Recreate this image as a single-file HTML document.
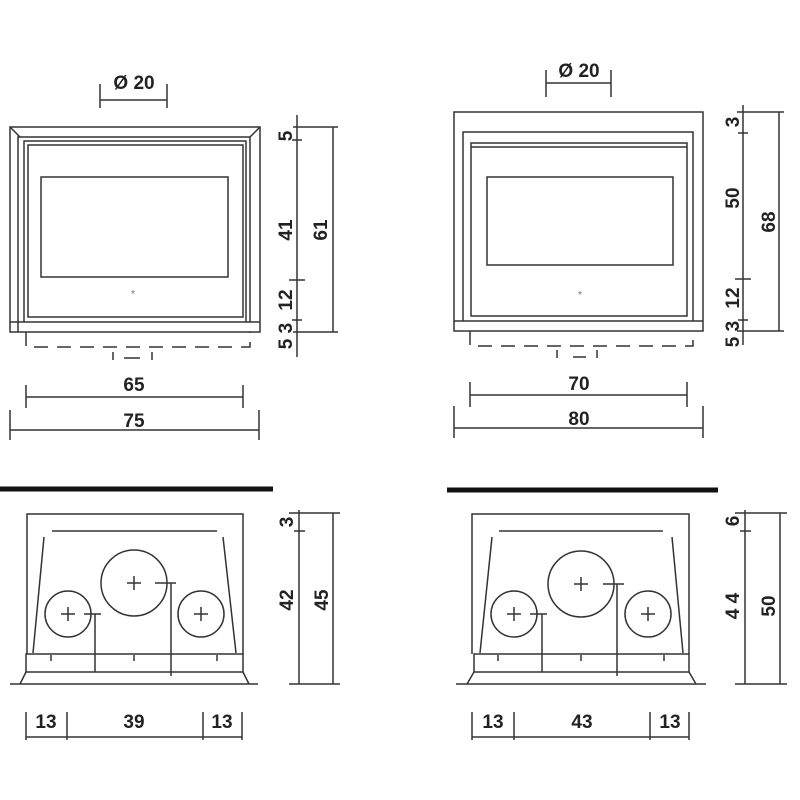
<!DOCTYPE html>
<html><head><style>html,body{margin:0;padding:0;background:#fff}svg{display:block}</style></head><body>
<svg width="800" height="800" viewBox="0 0 800 800" xmlns="http://www.w3.org/2000/svg" font-family="Liberation Sans, sans-serif" font-size="19" font-weight="bold" fill="none" stroke="#333" stroke-width="1.5">
<g fill="#222" stroke="none" text-anchor="middle">
<text x="134" y="89">Ø 20</text>
<text x="134" y="391">65</text>
<text x="134" y="427">75</text>
<text transform="translate(292,136) rotate(-90)">5</text>
<text transform="translate(292,230) rotate(-90)">41</text>
<text transform="translate(327,230) rotate(-90)">61</text>
<text transform="translate(292,300) rotate(-90)">12</text>
<text transform="translate(292,336) rotate(-90)">5 3</text>
<text x="579" y="77">Ø 20</text>
<text x="579" y="390">70</text>
<text x="579" y="425">80</text>
<text transform="translate(739,122) rotate(-90)">3</text>
<text transform="translate(739,198) rotate(-90)">50</text>
<text transform="translate(775,222) rotate(-90)">68</text>
<text transform="translate(739,298) rotate(-90)">12</text>
<text transform="translate(739,334) rotate(-90)">5 3</text>
<text transform="translate(293,522) rotate(-90)">3</text>
<text transform="translate(293,600) rotate(-90)">42</text>
<text transform="translate(328,600) rotate(-90)">45</text>
<text x="46" y="728">13</text><text x="134" y="728">39</text><text x="222" y="728">13</text>
<text transform="translate(739,521) rotate(-90)">6</text>
<text transform="translate(739,606) rotate(-90)">4 4</text>
<text transform="translate(775,606) rotate(-90)">50</text>
<text x="493" y="728">13</text><text x="582" y="728">43</text><text x="670" y="728">13</text>
</g>

<path d="M100,84V108M167,84V108M100,100H167"/>
<rect x="10" y="127" width="250" height="205"/>
<path d="M10,322H260"/>
<path d="M18,332V137H250V322M10,127L20,137M260,127L250,137"/>
<rect x="28" y="145" width="215" height="172"/>
<path d="M24,322V141H246V322"/>
<rect x="41" y="177" width="187" height="100"/>
<text x="133" y="297" font-size="10" fill="#999" stroke="none" text-anchor="middle">*</text>
<path d="M26,332V347H250V332" stroke-dasharray="14,9"/>
<path d="M113,352V360M152,352V360M124,358H140"/>
<path d="M297,115V357M292,140H302M289,280H305M292,320H302M333,127V332M293,127H338M293,332H338"/>
<path d="M26,385V408M243,385V408M26,397H243M10,410V440M259,410V440M10,430H259"/>

<path d="M546,70V97M611,70V97M546,83H611"/>
<rect x="454" y="112" width="249" height="219"/>
<path d="M454,321H703"/>
<path d="M463,321V132H693V321"/>
<rect x="471" y="143" width="216" height="173"/>
<path d="M471,147H687"/>
<rect x="487" y="177" width="186" height="88"/>
<text x="580" y="298" font-size="10" fill="#999" stroke="none" text-anchor="middle">*</text>
<path d="M470,331V346H693V331" stroke-dasharray="14,9"/>
<path d="M557,350V358M597,350V358M573,357H586"/>
<path d="M743,105V345M738,133H748M735,279H751M738,320H748M779,112V331M737,112H784M737,331H784"/>
<path d="M470,382V407M687,382V407M470,395H687M454,406V438M703,406V438M454,428H703"/>

<path d="M0,489H273" stroke="#111" stroke-width="5"/>
<path d="M27,654V514H243V654"/>
<path d="M52,531H217M44,537L33,653M223,537L236,653"/>
<rect x="26" y="654" width="217" height="18"/>
<path d="M26,672L20,684M243,672L249,684M10,684H258"/>
<path d="M51,655V661M134,655V661M217,655V661"/>
<circle cx="134" cy="583" r="33"/><circle cx="68" cy="614" r="23"/><circle cx="201" cy="614" r="23"/>
<path d="M127,583H141M134,576V590M61,614H75M68,607V621M194,614H208M201,607V621"/>
<path d="M84,614H101M95,614V672M155,583H176M171,583V676"/>
<path d="M299,510V684M294,531H305M333,513V684M289,513H340M289,684H340"/>
<path d="M26,712V740M67,712V740M203,712V740M242,712V740M26,737H242"/>

<path d="M447,490H718" stroke="#111" stroke-width="5"/>
<path d="M472,654V514H689V654"/>
<path d="M499,531H663M492,537L480,653M672,537L683,653"/>
<rect x="474" y="654" width="215" height="18"/>
<path d="M474,672L467,684M689,672L696,684M456,684H706"/>
<path d="M498,655V661M581,655V661M664,655V661"/>
<circle cx="581" cy="584" r="33"/><circle cx="514" cy="614" r="23"/><circle cx="648" cy="614" r="23"/>
<path d="M574,584H588M581,577V591M507,614H521M514,607V621M641,614H655M648,607V621"/>
<path d="M530,614H547M542,614V672M603,584H624M617,584V676"/>
<path d="M745,510V684M740,531H751M780,513V684M735,513H787M735,684H787"/>
<path d="M472,712V740M514,712V740M650,712V740M689,712V740M472,737H689"/>
</svg>
</body></html>
